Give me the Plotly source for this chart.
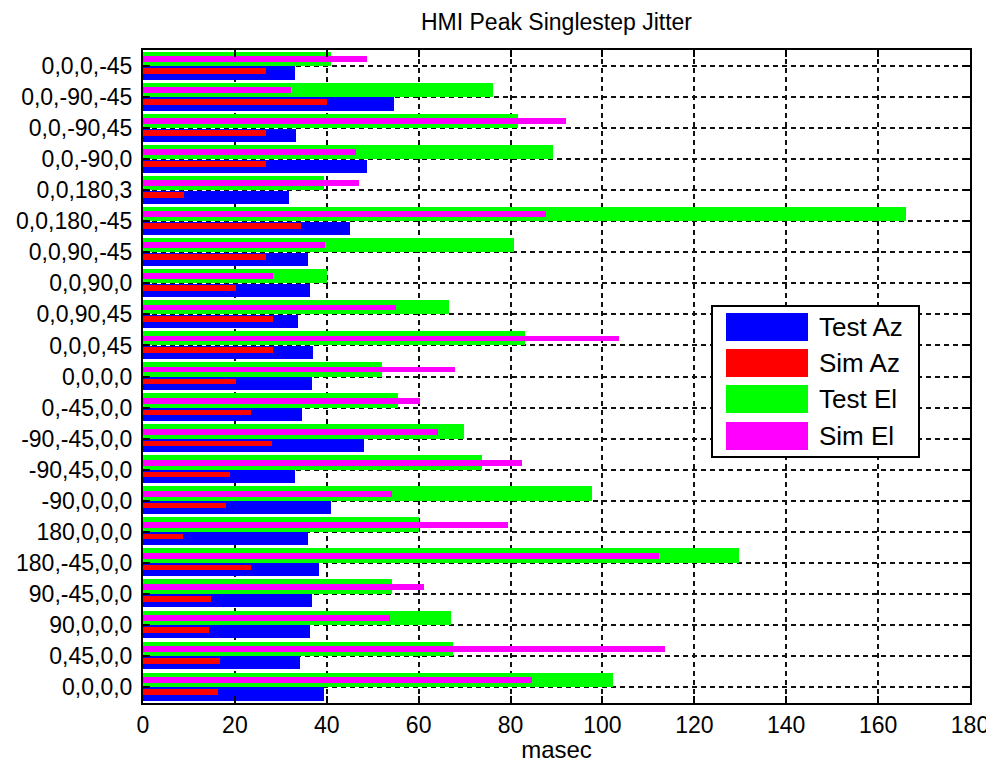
import plotly.graph_objects as go

# Categories listed from bottom (y=1) to top (y=21)
categories = [
    "0,0,0,0", "0,45,0,0", "90,0,0,0", "90,-45,0,0", "180,-45,0,0",
    "180,0,0,0", "-90,0,0,0", "-90,45,0,0", "-90,-45,0,0", "0,-45,0,0",
    "0,0,0,0", "0,0,0,45", "0,0,90,45", "0,0,90,0", "0,0,90,-45",
    "0,0,180,-45", "0,0,180,3", "0,0,-90,0", "0,0,-90,45", "0,0,-90,-45",
    "0,0,0,-45",
]
test_az = [39.3, 34.2, 36.4, 36.7, 38.4, 36.0, 40.9, 33.0, 48.0, 34.7,
           36.7, 37.1, 33.8, 36.4, 36.0, 45.1, 31.8, 48.8, 33.3, 54.6, 33.1]
sim_az = [16.4, 16.8, 14.4, 14.8, 23.4, 8.6, 18.1, 18.9, 28.0, 23.4,
          20.2, 28.4, 28.4, 20.2, 26.8, 34.3, 8.9, 26.8, 26.8, 40.1, 26.8]
test_el = [102.4, 67.5, 67.0, 54.1, 129.7, 60.1, 97.8, 73.7, 69.9, 55.4,
           52.0, 83.2, 66.6, 40.1, 80.8, 166.0, 39.3, 89.2, 81.7, 76.2, 40.9]
sim_el = [84.6, 113.6, 53.8, 61.2, 112.3, 79.5, 54.1, 82.4, 64.1, 60.3,
          67.8, 103.6, 55.0, 28.4, 39.6, 87.7, 47.1, 46.3, 92.1, 32.2, 48.8]
x_ticks = [0, 20, 40, 60, 80, 100, 120, 140, 160, 180]

series_names = ["Test Az", "Sim Az", "Test El", "Sim El"]
series_values = [test_az, sim_az, test_el, sim_el]
series_colors = ["#0000FF", "#FF0000", "#00FF00", "#FF00FF"]
# (offset, width) of each series within a category slot
series_geom = [(-0.44, 0.43), (-0.25, 0.185), (0.0, 0.46), (0.13, 0.19)]

positions = list(range(1, len(categories) + 1))
FONT = "Liberation Sans, Arial, sans-serif"

fig = go.Figure()
for name, vals, col, (off, wid) in zip(series_names, series_values, series_colors, series_geom):
    fig.add_trace(go.Bar(
        x=vals, y=positions, orientation="h", name=name,
        marker=dict(color=col, line=dict(width=0)),
        offset=off, width=wid, showlegend=False,
    ))

WIN_W, WIN_H = 994, 771
OFF = 8  # page body margin: figure is drawn at (8, 8) in the window
W, H = WIN_W - OFF, WIN_H - 2 * OFF  # fits the window without scrollbars
# desired plot box in window pixels
PL, PR, PT, PB = 143, 970, 50, 703
L, T = PL - OFF, PT - OFF
R, B = W - (PR - OFF), H - (PB - OFF)
pw, ph = W - L - R, H - T - B


def px_x(p):
    return (p - OFF - L) / pw


def px_y(p):
    return (H - B - (p - OFF)) / ph


shapes = []
annotations = []
# manual legend box
shapes.append(dict(type="rect", xref="paper", yref="paper",
                   x0=px_x(712), x1=px_x(919), y0=px_y(457), y1=px_y(306),
                   line=dict(color="black", width=2), fillcolor="white", layer="above"))
row_tops = [313, 349, 385, 422]
for i, (name, col) in enumerate(zip(series_names, series_colors)):
    top = row_tops[i]
    shapes.append(dict(type="rect", xref="paper", yref="paper",
                       x0=px_x(726), x1=px_x(808), y0=px_y(top + 28), y1=px_y(top),
                       line=dict(width=0), fillcolor=col, layer="above"))
    annotations.append(dict(text=name, xref="paper", yref="paper",
                            x=px_x(817), y=px_y(top + 14), xanchor="left", yanchor="middle",
                            showarrow=False, font=dict(family=FONT, size=26, color="black")))

fig.update_layout(
    width=W, height=H,
    margin=dict(l=L, r=R, t=T, b=B, autoexpand=False),
    paper_bgcolor="white", plot_bgcolor="white",
    barmode="overlay", bargap=0,
    font=dict(family=FONT, size=23, color="black"),
    title=dict(text="HMI Peak Singlestep Jitter", x=0.5, xref="paper", xanchor="center",
               y=1 - (22 - OFF) / H, yref="container", yanchor="middle",
               font=dict(family=FONT, size=23, color="black")),
    shapes=shapes, annotations=annotations,
    showlegend=False,
)
fig.update_xaxes(
    range=[0, 180], tickvals=x_ticks, ticktext=[str(v) for v in x_ticks],
    showline=True, linecolor="black", linewidth=2, mirror="allticks",
    ticks="inside", ticklen=7, tickwidth=2, tickcolor="black",
    showgrid=True, gridcolor="#111111", gridwidth=1.5, griddash="5px,4px",
    zeroline=False, automargin=False,
    tickfont=dict(family=FONT, size=23),
    title=dict(text="masec", standoff=15, font=dict(family=FONT, size=24)),
)
fig.update_yaxes(
    range=[0.48, 21.52], tickvals=positions, ticktext=categories,
    showline=True, linecolor="black", linewidth=2, mirror="allticks",
    ticks="inside", ticklen=7, tickwidth=2, tickcolor="black",
    showgrid=True, gridcolor="#111111", gridwidth=1.5, griddash="5px,4px",
    zeroline=False, automargin=False, ticklabelstandoff=4,
    tickfont=dict(family=FONT, size=23),
)

fig.write_html("out.html")
